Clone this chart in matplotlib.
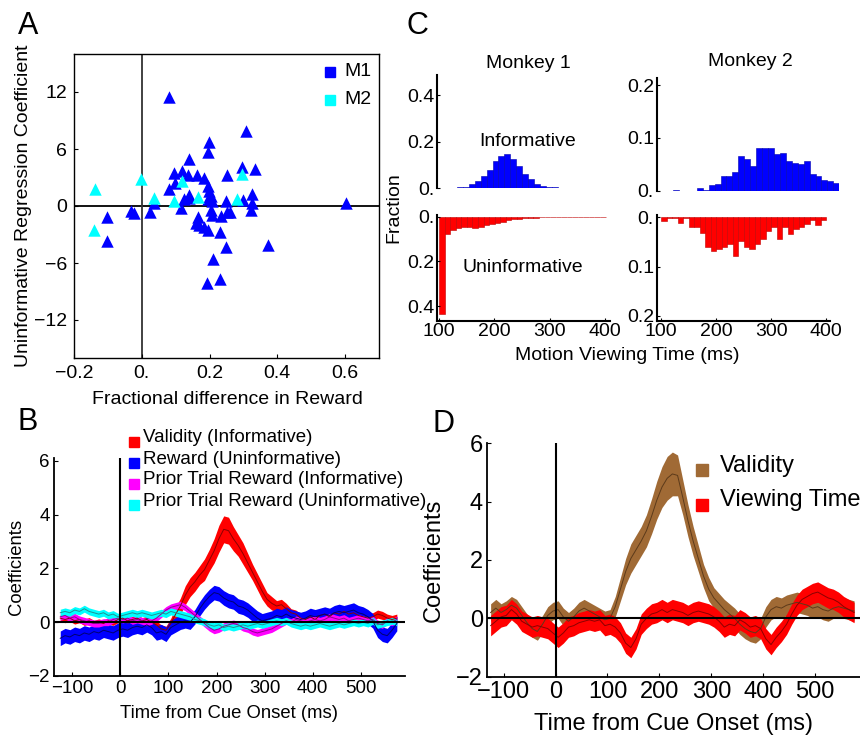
import numpy as np
import matplotlib
matplotlib.use('Agg')
import matplotlib.pyplot as plt
from matplotlib.lines import Line2D

plt.rcParams['font.family'] = ['Liberation Sans', 'DejaVu Sans']

# ---------------- data ----------------
# panel A: fractional difference in reward vs uninformative regression coefficient
m1_x = [0.081, 0.308, 0.197, 0.196, 0.14, 0.297, 0.334, 0.096, 0.12, 0.135, 0.164,
        0.184, 0.25, 0.099, 0.079, 0.194, 0.199, 0.14, 0.204, 0.324, 0.125, 0.14,
        0.194, 0.208, 0.248, 0.30, 0.326, 0.603, 0.037, 0.025, -0.033, -0.023,
        -0.103, -0.103, 0.117, 0.204, 0.208, 0.233, 0.25, 0.26, 0.321, 0.167, 0.16,
        0.17, 0.184, 0.194, 0.231, 0.248, 0.372, 0.21, 0.193, 0.23]
m1_y = [11.5, 7.9, 6.7, 5.7, 4.9, 4.1, 3.9, 3.5, 3.7, 3.3, 3.3,
        3.0, 3.3, 2.4, 1.8, 2.1, 1.6, 1.2, 1.05, 1.3, 0.7, 0.8,
        0.7, 0.5, 0.5, 0.6, 0.35, 0.3, 0.3, -0.6, -0.5, -0.7,
        -1.2, -3.7, -0.25, -0.4, -0.9, -1.05, -0.6, -0.6, -0.4, -1.2, -1.8,
        -2.0, -2.2, -2.5, -2.7, -4.3, -4.1, -5.6, -8.1, -7.7]
m2_x = [-0.137, -0.141, -0.002, 0.037, 0.096, 0.118, 0.167, 0.282, 0.295]
m2_y = [1.8, -2.5, 2.8, 0.8, 0.5, 2.6, 0.9, 0.7, 3.4]

# panel C: histograms of motion viewing time (30 bins over each data range)
m1_inf_range = (100, 422)
m1_inf = [0.002, 0.002, 0.003, 0.004, 0.006, 0.017, 0.031, 0.053, 0.079, 0.117,
          0.139, 0.146, 0.127, 0.096, 0.060, 0.039, 0.017, 0.010, 0.006, 0.004,
          0.003, 0.002, 0.002, 0.002, 0.001, 0.001, 0.001, 0.001, 0.001, 0.001]
m1_uninf_range = (100, 401)
m1_uninf = [0.436, 0.075, 0.060, 0.050, 0.045, 0.045, 0.050, 0.045, 0.037, 0.033,
            0.027, 0.022, 0.015, 0.012, 0.009, 0.007, 0.006, 0.004, 0.003, 0.003,
            0.002, 0.002, 0.002, 0.001, 0.001, 0.001, 0.001, 0.001, 0.001, 0.001]
m2_inf_range = (100, 424)
m2_inf = [0, 0, 0.002, 0, 0, 0, 0.005, 0.001, 0.011, 0.013,
          0.028, 0.028, 0.035, 0.066, 0.060, 0.046, 0.081, 0.081, 0.081, 0.070,
          0.071, 0.056, 0.052, 0.050, 0.056, 0.031, 0.027, 0.021, 0.019, 0.015]
m2_uninf_range = (100, 400)
m2_uninf = [0.008, 0.001, 0.001, 0.012, 0.001, 0.020, 0.020, 0.032, 0.060, 0.069,
            0.065, 0.060, 0.055, 0.079, 0.048, 0.060, 0.065, 0.055, 0.043, 0.027,
            0.019, 0.043, 0.019, 0.033, 0.023, 0.020, 0.013, 0.005, 0.015, 0.005]

# panels B and D: regression coefficients vs time from cue onset (ms)
t_ms = np.arange(-125, 576, 10)

validity_inf = [0.15, 0.10, 0.15, 0.05, 0.10, 0.00, 0.05, -0.05, 0.00, -0.05,
                0.05, 0.00, 0.10, 0.15, 0.05, 0.10, 0.15, 0.05, 0.10, 0.00,
                -0.10, -0.25, -0.30, -0.05, 0.30, 0.60, 1.00, 1.30, 1.50, 1.75,
                1.95, 2.30, 2.65, 3.10, 3.45, 3.40, 3.10, 2.85, 2.55, 2.20,
                1.85, 1.50, 1.15, 0.85, 0.70, 0.60, 0.65, 0.50, 0.35, 0.30,
                0.15, 0.10, 0.20, 0.10, 0.25, 0.30, 0.20, 0.35, 0.30, 0.40,
                0.30, 0.35, 0.25, 0.20, 0.15, 0.20, 0.30, 0.25, 0.15, 0.10, 0.15]
validity_inf_sem = [0.12, 0.12, 0.12, 0.12, 0.12, 0.12, 0.12, 0.12, 0.12, 0.12,
                    0.12, 0.12, 0.12, 0.12, 0.12, 0.12, 0.12, 0.12, 0.12, 0.12,
                    0.15, 0.15, 0.15, 0.2, 0.25, 0.3, 0.35, 0.35, 0.35, 0.35,
                    0.4, 0.4, 0.45, 0.5, 0.5, 0.5, 0.45, 0.4, 0.4, 0.35,
                    0.3, 0.3, 0.3, 0.25, 0.25, 0.2, 0.2, 0.2, 0.15, 0.15,
                    0.15, 0.15, 0.15, 0.15, 0.15, 0.15, 0.15, 0.15, 0.15, 0.15,
                    0.15, 0.15, 0.15, 0.15, 0.15, 0.15, 0.15, 0.15, 0.15, 0.15, 0.15]
reward_uninf = [-0.60, -0.50, -0.55, -0.45, -0.50, -0.40, -0.45, -0.35, -0.40, -0.30,
                -0.35, -0.40, -0.30, -0.25, -0.30, -0.20, -0.15, -0.20, -0.10, -0.20,
                -0.40, -0.35, -0.45, -0.20, -0.10, 0.00, 0.05, 0.00, 0.20, 0.50,
                0.75, 0.95, 1.10, 1.05, 0.90, 0.80, 0.75, 0.60, 0.55, 0.45,
                0.30, 0.15, 0.05, 0.10, 0.15, 0.25, 0.20, 0.30, 0.20, 0.15,
                0.10, 0.15, 0.25, 0.20, 0.25, 0.30, 0.25, 0.35, 0.40, 0.35,
                0.40, 0.45, 0.35, 0.30, 0.20, 0.05, -0.30, -0.45, -0.50, -0.30, -0.05]
reward_uninf_sem = 0.27
prior_inf = [0.20, 0.25, 0.15, 0.20, 0.10, 0.05, 0.00, -0.05, -0.05, 0.00,
             0.00, 0.10, 0.15, 0.10, 0.15, 0.05, 0.10, 0.05, 0.00, 0.05,
             0.15, 0.30, 0.45, 0.55, 0.60, 0.65, 0.55, 0.40, 0.25, 0.10,
             -0.05, -0.20, -0.30, -0.25, -0.15, -0.10, -0.05, -0.10, -0.20, -0.25,
             -0.35, -0.40, -0.35, -0.30, -0.25, -0.15, -0.05, 0.05, 0.00, 0.10,
             0.05, 0.00, 0.05, 0.10, 0.05, 0.10, 0.20, 0.15, 0.10, 0.15,
             0.05, 0.10, 0.15, 0.10, 0.05, 0.10, -0.05, -0.10, 0.05, 0.00, 0.10]
prior_inf_sem = 0.13
prior_uninf = [0.35, 0.40, 0.35, 0.45, 0.40, 0.50, 0.40, 0.35, 0.30, 0.35,
               0.25, 0.30, 0.20, 0.25, 0.30, 0.35, 0.30, 0.35, 0.30, 0.25,
               0.30, 0.35, 0.30, 0.40, 0.35, 0.30, 0.25, 0.20, 0.10, 0.05,
               0.00, -0.10, -0.15, -0.10, -0.20, -0.15, -0.20, -0.15, -0.10, -0.15,
               -0.10, -0.05, -0.10, -0.05, 0.00, 0.05, 0.00, 0.05, -0.05, -0.10,
               -0.15, -0.10, -0.15, -0.10, -0.05, -0.10, -0.15, -0.10, -0.05, -0.10,
               -0.05, 0.00, -0.05, 0.00, -0.05, 0.05, -0.10, -0.05, 0.00, 0.05, 0.00]
prior_uninf_sem = 0.13

validity_d = [0.20, 0.35, 0.20, 0.30, 0.45, 0.35, 0.10, -0.15, -0.35, -0.45,
              -0.20, 0.10, 0.25, 0.30, 0.05, -0.10, 0.05, 0.25, 0.35, 0.25,
              0.15, 0.05, -0.05, 0.00, 0.40, 1.00, 1.60, 2.05, 2.35, 2.65,
              3.00, 3.50, 4.05, 4.50, 4.80, 4.95, 4.90, 4.15, 3.35, 2.65,
              2.05, 1.45, 1.00, 0.70, 0.50, 0.30, 0.15, 0.00, -0.20, -0.35,
              -0.45, -0.50, -0.35, 0.05, 0.30, 0.40, 0.35, 0.45, 0.50, 0.55,
              0.50, 0.45, 0.35, 0.40, 0.30, 0.25, 0.35, 0.40, 0.35, 0.30, 0.25]
validity_d_sem = [0.3, 0.3, 0.3, 0.3, 0.3, 0.3, 0.3, 0.3, 0.3, 0.3,
                  0.3, 0.3, 0.3, 0.3, 0.3, 0.3, 0.3, 0.3, 0.3, 0.3,
                  0.3, 0.3, 0.3, 0.3, 0.35, 0.4, 0.45, 0.5, 0.5, 0.5,
                  0.55, 0.6, 0.65, 0.7, 0.75, 0.75, 0.7, 0.6, 0.55, 0.5,
                  0.45, 0.4, 0.4, 0.35, 0.35, 0.35, 0.35, 0.35, 0.35, 0.35,
                  0.35, 0.35, 0.35, 0.35, 0.35, 0.35, 0.35, 0.35, 0.35, 0.35,
                  0.35, 0.35, 0.35, 0.35, 0.35, 0.35, 0.35, 0.35, 0.35, 0.35, 0.35]
viewing_d = [-0.25, -0.10, 0.05, 0.10, 0.30, 0.15, -0.10, -0.20, -0.30, -0.25,
             -0.30, -0.35, -0.50, -0.65, -0.50, -0.30, -0.25, -0.15, -0.10, -0.05,
             -0.10, -0.05, -0.25, -0.20, -0.30, -0.50, -0.85, -1.00, -0.70, -0.20,
             0.00, 0.15, 0.20, 0.30, 0.20, 0.30, 0.25, 0.20, 0.10, 0.20,
             0.25, 0.20, 0.15, 0.05, -0.10, -0.30, -0.20, -0.25, -0.05, -0.15,
             -0.30, -0.25, -0.35, -0.70, -0.90, -0.65, -0.45, -0.20, 0.15, 0.45,
             0.65, 0.75, 0.85, 0.90, 0.80, 0.70, 0.65, 0.55, 0.40, 0.30, 0.20]
viewing_d_sem = 0.35

b_labels = ['Validity (Informative)', 'Reward (Uninformative)',
            'Prior Trial Reward (Informative)', 'Prior Trial Reward (Uninformative)']
d_labels = ['Validity', 'Viewing Time']

# ---------------- figure ----------------
W, H = 860, 736
fig = plt.figure(figsize=(W / 100, H / 100), dpi=100)


def px_axes(l, t, r, b):
    return fig.add_axes([l / W, 1 - b / H, (r - l) / W, (b - t) / H])


def ftext(x, y, s, **kw):
    fig.text(x / W, 1 - y / H, s, **kw)


def key(x, y, color, size):
    fig.add_artist(Line2D([x / W], [1 - y / H], marker='s', color=color,
                          markersize=size, linestyle='none',
                          transform=fig.transFigure))


FS = 14
FSB = 13.3
FSD = 17

# ---- panel A ----
axA = px_axes(74, 54, 379, 358)
axA.axhline(0, color='black', lw=1.3, zorder=1)
axA.axvline(0, color='#333333', lw=1.3, zorder=1)
axA.scatter(m1_x, m1_y, marker='^', s=80, color='#0000ff', linewidths=0, zorder=3)
axA.scatter(m2_x, m2_y, marker='^', s=80, color='#00ffff', linewidths=0, zorder=3)
axA.set_xlim(-0.2, 0.7)
axA.set_ylim(-16, 16)
axA.set_xticks([-0.2, 0, 0.2, 0.4, 0.6])
axA.set_xticklabels(['\u22120.2', '0.', '0.2', '0.4', '0.6'])
axA.set_yticks([-12, -6, 0, 6, 12])
axA.set_yticklabels(['\u221212', '\u22126', '0', '6', '12'])
axA.tick_params(direction='in', length=3, labelsize=FS, pad=5)
for sp in axA.spines.values():
    sp.set_linewidth(1.0)
ftext(24, 206, 'Uninformative Regression Coefficient', rotation=90,
      ha='center', va='center', fontsize=FS)
ftext(227, 399, 'Fractional difference in Reward', ha='center', va='center', fontsize=FS)
key(330, 72, '#0000ff', 7)
key(330, 100, '#00ffff', 7)
ftext(344, 71, 'M1', ha='left', va='center', fontsize=FS)
ftext(344, 99, 'M2', ha='left', va='center', fontsize=FS)

# ---- panel C ----
def hist_axes(rect, xl, yl, vals, rng, color, ecolor, yt, ytl, bottom_axis):
    ax = px_axes(*rect)
    edges = np.linspace(rng[0], rng[1], len(vals) + 1)
    ax.bar(edges[:-1], vals, width=np.diff(edges), align='edge', color=color,
           edgecolor=ecolor, linewidth=0.4)
    ax.set_xlim(*xl)
    ax.set_ylim(*yl)
    ax.spines['top'].set_visible(False)
    ax.spines['right'].set_visible(False)
    ax.set_yticks(yt)
    ax.set_yticklabels(ytl)
    if bottom_axis:
        ax.set_xticks([100, 200, 300, 400])
        ax.spines['bottom'].set_linewidth(1.5)
    else:
        ax.spines['bottom'].set_visible(False)
        ax.set_xticks([])
    ax.spines['left'].set_linewidth(1.5)
    ax.tick_params(direction='in', length=2, labelsize=FS, pad=2)
    ax.patch.set_alpha(0)
    return ax


hist_axes((437, 75, 617, 188.3), (96, 422), (0, 0.486), m1_inf, m1_inf_range,
          '#0000ff', '#0000b0', [0, 0.2, 0.4], ['0.', '0.2', '0.4'], False)
hist_axes((437, 215, 610, 320.7), (96, 409), (0.465, -0.008), m1_uninf, m1_uninf_range,
          '#ff0000', '#c00000', [0, 0.2, 0.4], ['0.', '0.2', '0.4'], True)
hist_axes((656.7, 78.3, 839.3, 190.7), (92, 424), (0, 0.213), m2_inf, m2_inf_range,
          '#0000ff', '#0000b0', [0, 0.1, 0.2], ['0.', '0.1', '0.2'], False)
hist_axes((656.7, 215, 830, 320.7), (92, 407), (0.21, -0.005), m2_uninf, m2_uninf_range,
          '#ff0000', '#c00000', [0, 0.1, 0.2], ['0.', '0.1', '0.2'], True)
ftext(528, 63, 'Monkey 1', ha='center', va='center', fontsize=FS)
ftext(750, 62, 'Monkey 2', ha='center', va='center', fontsize=FS)
ftext(528, 141, 'Informative', ha='center', va='center', fontsize=FS)
ftext(523, 267, 'Uninformative', ha='center', va='center', fontsize=FS)
ftext(394, 208, 'Fraction', rotation=90, ha='center', va='center', fontsize=FS)
ftext(627, 355, 'Motion Viewing Time (ms)', ha='center', va='center', fontsize=FS)


# ---- panels B and D ----
def band(ax, y, sem, color, lcolor):
    y = np.asarray(y)
    ax.fill_between(t_ms, y - sem, y + sem, color=color, linewidth=0, zorder=2)
    ax.plot(t_ms, y, color=lcolor, lw=0.7, zorder=3)


def coef_axes(rect, xl, yl, fs):
    ax = px_axes(*rect)
    ax.set_xlim(*xl)
    ax.set_ylim(*yl)
    ax.spines['top'].set_visible(False)
    ax.spines['right'].set_visible(False)
    ax.spines['left'].set_linewidth(1.3)
    ax.spines['bottom'].set_linewidth(1.3)
    ax.axhline(0, color='black', lw=1.5, zorder=4)
    ax.axvline(0, color='black', lw=1.5, zorder=4)
    ax.set_xticks([-100, 0, 100, 200, 300, 400, 500])
    ax.set_yticks([-2, 0, 2, 4, 6])
    ax.tick_params(direction='in', length=3, labelsize=fs, pad=3)
    return ax


axB = coef_axes((54, 458, 405, 676), (-138, 592), (-2, 6.1), 13.5)
band(axB, validity_inf, np.asarray(validity_inf_sem), '#ff0000', '#8b0000')
band(axB, reward_uninf, reward_uninf_sem, '#0000ff', '#000070')
band(axB, prior_inf, prior_inf_sem, '#ff00ff', '#900090')
band(axB, prior_uninf, prior_uninf_sem, '#00ffff', '#209090')
ftext(17, 567, 'Coefficients', rotation=90, ha='center', va='center', fontsize=FSB)
ftext(229, 713, 'Time from Cue Onset (ms)', ha='center', va='center', fontsize=FSB)
for i, (lab, c) in enumerate(zip(b_labels, ['#ff0000', '#0000ff', '#ff00ff', '#00ffff'])):
    key(134, 442 + 21 * i, c, 6.5)
    ftext(143, 438 + 21 * i, lab, ha='left', va='center', fontsize=13.5)

axD = coef_axes((487, 443.3, 865, 676.7), (-132, 596), (-2, 6), FSD)
band(axD, validity_d, np.asarray(validity_d_sem), '#a06a35', '#5c3a1a')
band(axD, viewing_d, viewing_d_sem, '#ff0000', '#8b0000')
ftext(434, 560, 'Coefficients', rotation=90, ha='center', va='center', fontsize=FSD)
ftext(673, 724, 'Time from Cue Onset (ms)', ha='center', va='center', fontsize=FSD)
key(702, 470, '#a06a35', 8)
key(702, 505, '#ff0000', 8)
ftext(720, 466, d_labels[0], ha='left', va='center', fontsize=FSD)
ftext(720, 500, d_labels[1], ha='left', va='center', fontsize=FSD)

# panel letters
ftext(18, 26, 'A', ha='left', va='center', fontsize=22)
ftext(17, 422, 'B', ha='left', va='center', fontsize=22)
ftext(406, 26, 'C', ha='left', va='center', fontsize=22)
ftext(432, 424, 'D', ha='left', va='center', fontsize=22)

fig.savefig('out.png', dpi=100)
